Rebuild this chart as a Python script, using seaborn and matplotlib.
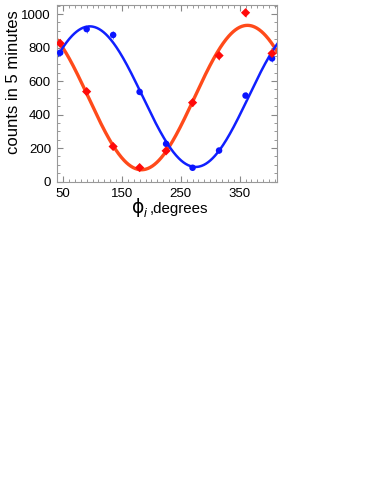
import matplotlib
matplotlib.use("Agg")
import matplotlib.pyplot as plt
import numpy as np
import pandas as pd
import seaborn as sns

phi = [45, 90, 135, 180, 225, 270, 315, 360, 405]
blue_counts = [769, 910, 875, 535, 225, 82, 185, 513, 735]
red_counts = [825, 537, 209, 83, 183, 471, 752, 1008, 765]
blue_err = [22, 25, 25, 20, 15, 10, 12, 20, 22]
red_err = [25, 20, 12, 10, 12, 18, 24, 26, 24]

sns.set_style("ticks")
plt.rcParams['font.family'] = ['Liberation Sans', 'DejaVu Sans']
plt.rcParams['text.color'] = 'black'
plt.rcParams['axes.labelcolor'] = 'black'
plt.rcParams['xtick.color'] = 'black'
plt.rcParams['ytick.color'] = 'black'

fig = plt.figure(figsize=(3.74, 4.84), dpi=100)
ax = fig.add_axes([0.153, 0.625, 0.587, 0.365])

# cosine fit  a + b cos + c sin  to each series
def fit(x, y):
    t = np.radians(x)
    A = np.column_stack([np.ones_like(t), np.cos(t), np.sin(t)])
    coef, *_ = np.linalg.lstsq(A, np.asarray(y, float), rcond=None)
    return coef

xs = np.linspace(40, 415, 400)
curves = []
for name, ys in [("blue", blue_counts), ("red", red_counts)]:
    a, b, c = fit(phi, ys)
    t = np.radians(xs)
    curves.append(pd.DataFrame({"phi": xs, "counts": a + b*np.cos(t) + c*np.sin(t), "set": name}))
cdf = pd.concat(curves)
sns.lineplot(data=cdf[cdf["set"] == "red"], x="phi", y="counts", color="#ff4a1a", lw=2.4, ax=ax)
sns.lineplot(data=cdf[cdf["set"] == "blue"], x="phi", y="counts", color="#1020ff", lw=1.8, ax=ax)

ax.errorbar(phi, blue_counts, yerr=blue_err, xerr=3, fmt="none", ecolor="#8080ff", elinewidth=0.7)
ax.errorbar(phi, red_counts, yerr=red_err, xerr=3, fmt="none", ecolor="#ff8080", elinewidth=0.7)
pts = pd.DataFrame({"phi": phi * 2, "counts": blue_counts + red_counts,
                    "set": ["blue"] * len(phi) + ["red"] * len(phi)})
sns.scatterplot(data=pts, x="phi", y="counts", hue="set", style="set",
                palette={"blue": "#0a14ff", "red": "#ff0a0a"},
                markers={"blue": "o", "red": "D"}, s=22, edgecolor="none",
                legend=False, ax=ax, zorder=5)

ax.set_xlim(40, 413)
ax.set_ylim(0, 1055)
ax.set_xticks([50, 150, 250, 350])
ax.set_xticks(np.arange(40, 414, 10), minor=True)
ax.set_yticks(np.arange(0, 1001, 200))
ax.set_yticks(np.arange(0, 1051, 50), minor=True)
ax.tick_params(which="both", direction="in", top=True, right=True, color="#888888",
               labelsize=9.5, pad=4.5)
ax.tick_params(which="major", length=4)
ax.tick_params(which="minor", length=2)
for s in ax.spines.values():
    s.set_color("#999999")
    s.set_linewidth(0.8)

ax.set_ylabel("counts in 5 minutes", fontsize=12)
ax.yaxis.set_label_coords(-0.167, 0.561)
ax.set_xlabel("")
# x label: big phi with italic subscript, then ",degrees"
fig.text(132 / 374, 1 - 213 / 484, "\u03d5", family="DejaVu Sans", fontsize=13.5, va="baseline")
fig.text(144 / 374, 1 - 217 / 484, "i", fontsize=9, style="italic", va="baseline")
fig.text(150 / 374, 1 - 213 / 484, ",degrees", fontsize=10.8, va="baseline")

fig.savefig("out.png", dpi=100)
